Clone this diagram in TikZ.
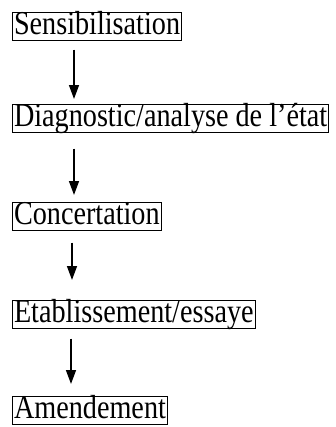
\documentclass[tikz,border=0pt]{standalone}
\usepackage{fontspec}
\setmainfont[FakeStretch=0.845]{Liberation Serif}
\usetikzlibrary{arrows.meta}
\begin{document}
\begin{tikzpicture}[x=1bp,y=-1bp,
  stage/.style={draw, line width=1bp, anchor=north west, inner xsep=1.5bp, inner ysep=0bp,
    text height=22bp, text depth=5.5bp, font=\fontsize{33.5}{33.5}\selectfont},
  flow/.style={line width=1.5bp, -{Triangle[width=10bp,length=14bp]}}]
\useasboundingbox (0,0) rectangle (336,427);
\node[stage] (s1) at (12,12) {Sensibilisation};
\node[stage] (s2) at (12,104) {Diagnostic/analyse de l’état};
\node[stage] (s3) at (12,202) {Concertation};
\node[stage] (s4) at (12,300) {Etablissement/essaye};
\node[stage] (s5) at (12,396) {Amendement};
\draw[flow, shorten <=9bp, shorten >=5bp] ([xshift=62bp]s1.south west) -- ([xshift=62bp]s2.north west);
\draw[flow, shorten <=16bp, shorten >=7bp] ([xshift=62bp]s2.south west) -- ([xshift=62bp]s3.north west);
\draw[flow, shorten <=12bp, shorten >=20bp] ([xshift=60bp]s3.south west) -- ([xshift=60bp]s4.north west);
\draw[flow, shorten <=10bp, shorten >=12bp] ([xshift=59bp]s4.south west) -- ([xshift=59bp]s5.north west);
\end{tikzpicture}
\end{document}
